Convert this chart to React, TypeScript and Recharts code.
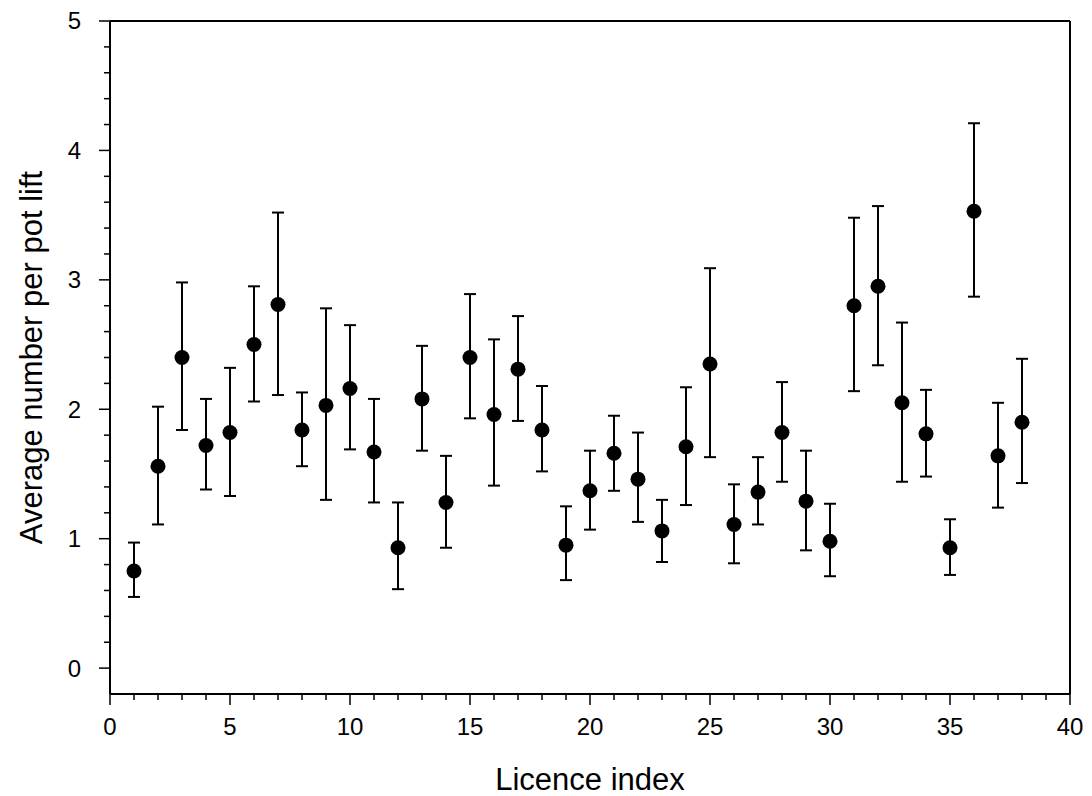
import React from 'react';
import {
  ScatterChart,
  Scatter,
  XAxis,
  YAxis,
  ErrorBar,
  ReferenceLine,
} from 'recharts';

// Licence index (x) for each plotted licence
const licenceIndex = [
  1, 2, 3, 4, 5, 6, 7, 8, 9, 10,
  11, 12, 13, 14, 15, 16, 17, 18, 19, 20,
  21, 22, 23, 24, 25, 26, 27, 28, 29, 30,
  31, 32, 33, 34, 35, 36, 37, 38,
];

// Average number per pot lift
const meanValues = [
  0.75, 1.56, 2.4, 1.72, 1.82, 2.5, 2.81, 1.84, 2.03, 2.16,
  1.67, 0.93, 2.08, 1.28, 2.4, 1.96, 2.31, 1.84, 0.95, 1.37,
  1.66, 1.46, 1.06, 1.71, 2.35, 1.11, 1.36, 1.82, 1.29, 0.98,
  2.8, 2.95, 2.05, 1.81, 0.93, 3.53, 1.64, 1.9,
];

// Lower end of each interval
const lowerValues = [
  0.55, 1.11, 1.84, 1.38, 1.33, 2.06, 2.11, 1.56, 1.3, 1.69,
  1.28, 0.61, 1.68, 0.93, 1.93, 1.41, 1.91, 1.52, 0.68, 1.07,
  1.37, 1.13, 0.82, 1.26, 1.63, 0.81, 1.11, 1.44, 0.91, 0.71,
  2.14, 2.34, 1.44, 1.48, 0.72, 2.87, 1.24, 1.43,
];

// Upper end of each interval
const upperValues = [
  0.97, 2.02, 2.98, 2.08, 2.32, 2.95, 3.52, 2.13, 2.78, 2.65,
  2.08, 1.28, 2.49, 1.64, 2.89, 2.54, 2.72, 2.18, 1.25, 1.68,
  1.95, 1.82, 1.3, 2.17, 3.09, 1.42, 1.63, 2.21, 1.68, 1.27,
  3.48, 3.57, 2.67, 2.15, 1.15, 4.21, 2.05, 2.39,
];

// Axis ticks (major labelled, minor unlabelled)
const xTicks = [
  0, 1, 2, 3, 4, 5, 6, 7, 8, 9, 10,
  11, 12, 13, 14, 15, 16, 17, 18, 19, 20,
  21, 22, 23, 24, 25, 26, 27, 28, 29, 30,
  31, 32, 33, 34, 35, 36, 37, 38, 39, 40,
];
const yTicks = [
  0, 0.2, 0.4, 0.6, 0.8, 1, 1.2, 1.4, 1.6, 1.8, 2,
  2.2, 2.4, 2.6, 2.8, 3, 3.2, 3.4, 3.6, 3.8, 4,
  4.2, 4.4, 4.6, 4.8, 5,
];

const FONT = '"Liberation Sans", Arial, sans-serif';

const rows = licenceIndex.map((idx, i) => ({
  idx,
  mean: meanValues[i],
  err: [meanValues[i] - lowerValues[i], upperValues[i] - meanValues[i]],
}));

const XTick = (props: any) => {
  const { x, y, payload } = props;
  const v = payload.value;
  const major = v % 5 === 0;
  return (
    <g>
      <line x1={x} y1={y} x2={x} y2={y + (major ? 11 : 6)} stroke="#000" strokeWidth={1.5} />
      {major && (
        <text x={x} y={y + 41} textAnchor="middle" fontFamily={FONT} fontSize={24} fill="#000">
          {v}
        </text>
      )}
    </g>
  );
};

const YTick = (props: any) => {
  const { x, y, payload } = props;
  const v = payload.value;
  const major = Math.abs(v - Math.round(v)) < 1e-6;
  return (
    <g>
      <line x1={x} y1={y} x2={x - (major ? 11 : 6)} y2={y} stroke="#000" strokeWidth={1.5} />
      {major && (
        <text x={x - 29} y={y} dy="0.35em" textAnchor="end" fontFamily={FONT} fontSize={24} fill="#000">
          {Math.round(v)}
        </text>
      )}
    </g>
  );
};

const XTitle = (props: any) => {
  const vb = props.viewBox;
  return (
    <text x={vb.x + vb.width / 2} y={vb.y + 96} textAnchor="middle" fontFamily={FONT} fontSize={31} fill="#000">
      Licence index
    </text>
  );
};

const YTitle = (props: any) => {
  const vb = props.viewBox;
  const cx = 42;
  const cy = vb.y + vb.height / 2;
  return (
    <text
      x={cx}
      y={cy}
      transform={`rotate(-90 ${cx} ${cy})`}
      textAnchor="middle"
      fontFamily={FONT}
      fontSize={31}
      fill="#000"
    >
      Average number per pot lift
    </text>
  );
};

const Dot = (props: any) => <circle cx={props.cx} cy={props.cy} r={7.5} fill="#000" />;

export default function App() {
  return (
    <div style={{ position: 'absolute', left: 0, top: 0, background: '#fff' }}>
      <ScatterChart width={1092} height={796} margin={{ top: 21, right: 22, bottom: 0, left: 0 }}>
        <XAxis
          type="number"
          dataKey="idx"
          domain={[0, 40]}
          ticks={xTicks}
          interval={0}
          tickSize={0}
          tickMargin={0}
          tickLine={false}
          tick={XTick}
          height={102}
          axisLine={{ stroke: '#000', strokeWidth: 2 }}
          label={<XTitle />}
          allowDataOverflow
        />
        <YAxis
          type="number"
          dataKey="mean"
          domain={[-0.2, 5]}
          ticks={yTicks}
          interval={0}
          tickSize={0}
          tickMargin={0}
          tickLine={false}
          tick={YTick}
          width={110}
          axisLine={{ stroke: '#000', strokeWidth: 2 }}
          label={<YTitle />}
          allowDataOverflow
        />
        <ReferenceLine y={5} stroke="#000" strokeWidth={2} />
        <ReferenceLine x={40} stroke="#000" strokeWidth={2} />
        <Scatter data={rows} shape={Dot} isAnimationActive={false}>
          <ErrorBar dataKey="err" direction="y" width={6} stroke="#000" strokeWidth={2} isAnimationActive={false} />
        </Scatter>
      </ScatterChart>
    </div>
  );
}
